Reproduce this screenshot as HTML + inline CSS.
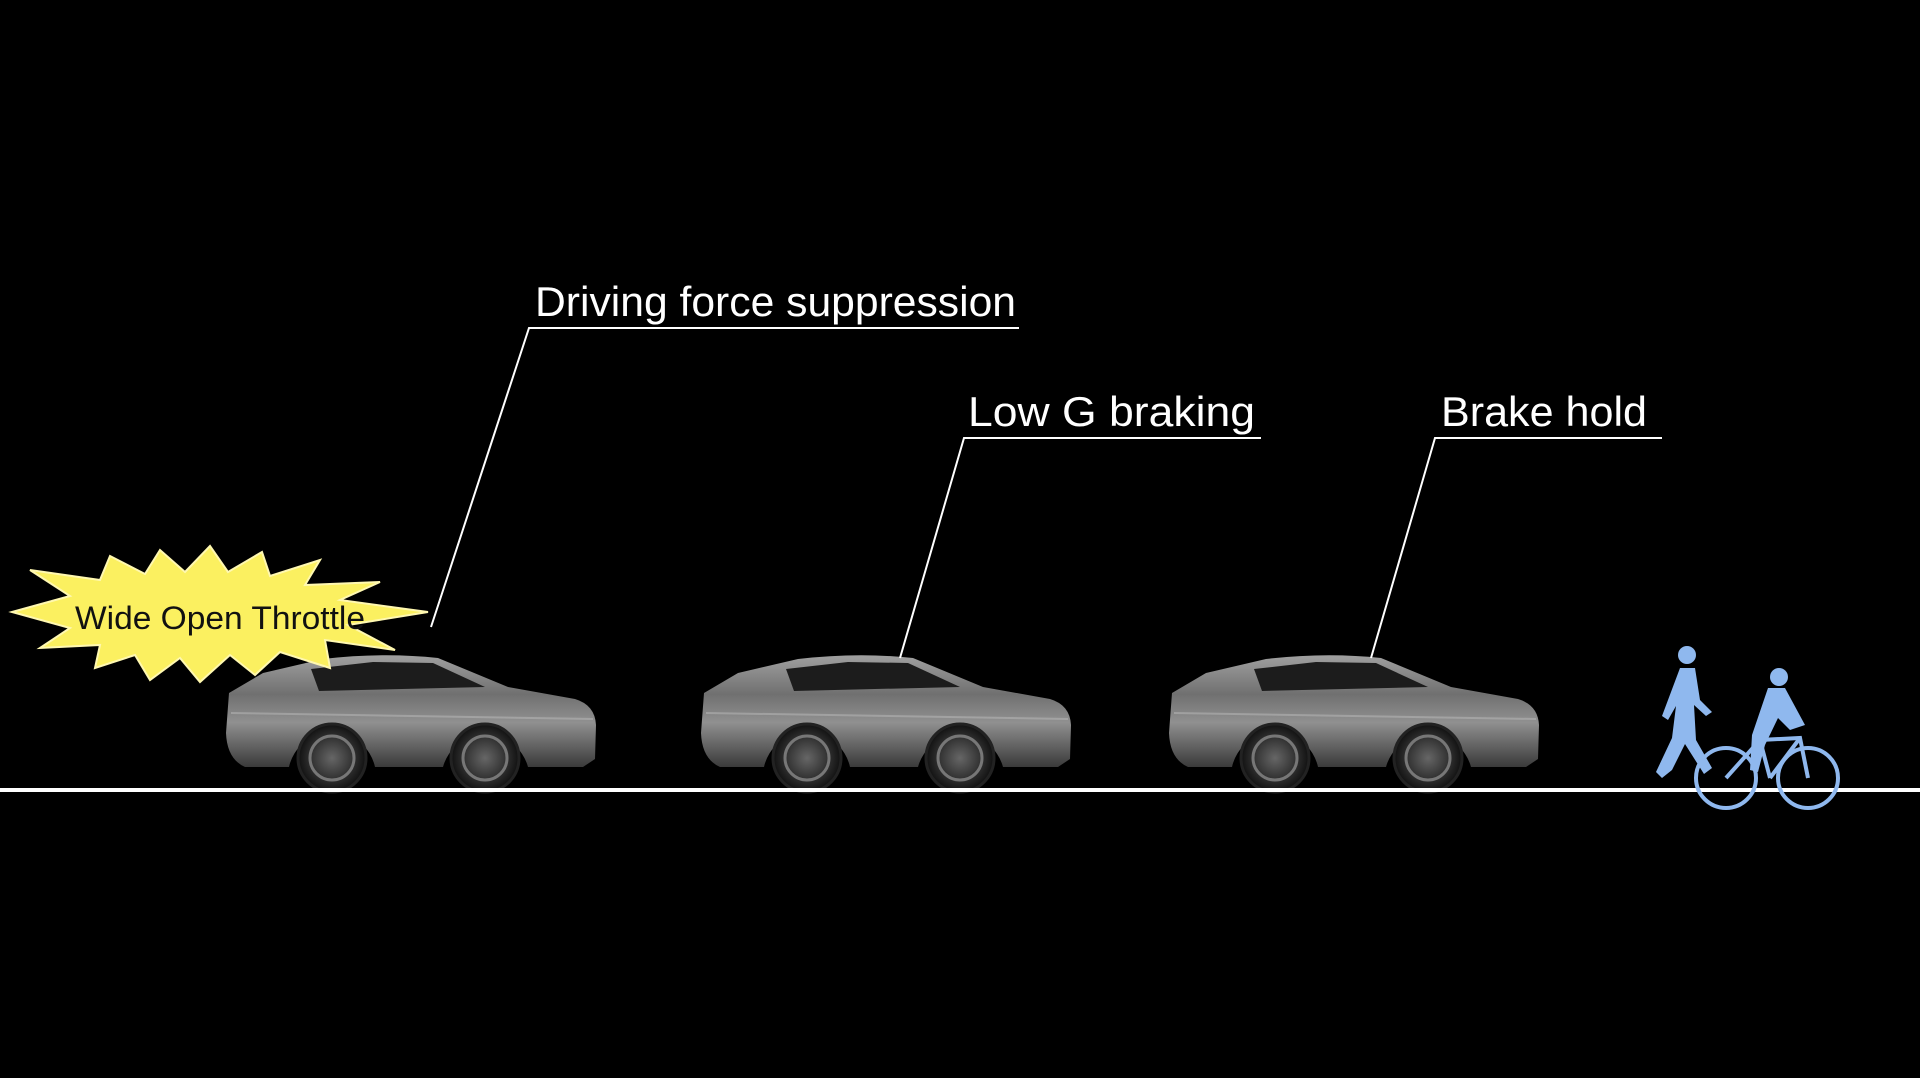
<!DOCTYPE html>
<html><head><meta charset="utf-8"><style>
html,body{margin:0;padding:0;background:#000;width:1920px;height:1078px;overflow:hidden}
svg{display:block}
</style></head><body>
<svg width="1920" height="1078" viewBox="0 0 1920 1078" xmlns="http://www.w3.org/2000/svg">
<defs>
<linearGradient id="body" x1="0" y1="0" x2="0" y2="1">
<stop offset="0" stop-color="#a0a0a0"/><stop offset="0.35" stop-color="#707070"/><stop offset="0.6" stop-color="#909090"/><stop offset="1" stop-color="#3a3a3a"/>
</linearGradient>
<radialGradient id="wheel"><stop offset="0" stop-color="#666"/><stop offset="0.6" stop-color="#333"/><stop offset="1" stop-color="#111"/></radialGradient>
<g id="car">
<path d="M6,38 L40,18 L100,4 Q160,-3 215,3 L285,32 L352,44 Q372,50 373,70 L372,104 L360,112 L305,112 A44,44 0 0 0 220,112 L152,112 A44,44 0 0 0 66,112 L22,112 Q4,104 3,78 Z" fill="url(#body)"/>
<path d="M88,14 L150,7 L210,8 L262,32 L96,36 Z" fill="#1c1c1c"/>
<path d="M8,58 L370,64" stroke="#bbb" stroke-width="2" opacity="0.5"/>
<circle cx="109" cy="103" r="34" fill="url(#wheel)" stroke="#222" stroke-width="3"/>
<circle cx="262" cy="103" r="34" fill="url(#wheel)" stroke="#222" stroke-width="3"/>
<circle cx="109" cy="103" r="22" fill="none" stroke="#777" stroke-width="3"/><circle cx="262" cy="103" r="22" fill="none" stroke="#777" stroke-width="3"/>
</g>
</defs>
<use href="#car" x="223" y="655"/>
<use href="#car" x="698" y="655"/>
<use href="#car" x="1166" y="655"/>
<rect x="0" y="788" width="1920" height="4" fill="#fff"/>
<polygon fill="#fbf060" stroke="#fff8b0" stroke-width="2" points="12,612 70,596 30,570 100,580 110,556 145,574 160,550 185,572 210,546 228,572 262,552 270,576 320,560 305,585 380,582 340,600 428,612 348,625 395,650 325,640 330,668 280,652 255,675 230,655 200,682 180,658 150,680 135,655 95,668 100,645 40,648 70,628"/>
<text x="75" y="629" font-family="Liberation Sans, sans-serif" font-size="32" fill="#111" textLength="290" lengthAdjust="spacingAndGlyphs">Wide Open Throttle</text>
<g fill="#fff" font-family="Liberation Sans, sans-serif" font-size="42">
<text x="535" y="316" textLength="481" lengthAdjust="spacingAndGlyphs">Driving force suppression</text>
<text x="968" y="426" textLength="287" lengthAdjust="spacingAndGlyphs">Low G braking</text>
<text x="1441" y="426" textLength="206" lengthAdjust="spacingAndGlyphs">Brake hold</text>
</g>
<g stroke="#fff" stroke-width="2" fill="none">
<polyline points="1019,328 529,328 431,627"/>
<polyline points="1261,438 964,438 900,658"/>
<polyline points="1662,438 1435,438 1371,658"/>
</g>
<g fill="#8fb8ee" stroke="#8fb8ee">
<circle cx="1687" cy="655" r="9" stroke="none"/>
<path d="M1680,668 L1695,668 L1700,700 L1712,712 L1706,716 L1694,705 L1696,740 L1712,768 L1704,774 L1685,744 L1672,770 L1662,778 L1656,772 L1672,738 L1676,706 L1668,720 L1662,716 Z" stroke="none"/>
<circle cx="1779" cy="677" r="9" stroke="none"/>
<path d="M1768,688 L1785,688 L1805,725 L1790,730 L1778,718 L1765,745 L1758,772 L1750,770 L1752,735 Z" stroke="none"/>
<g fill="none" stroke-width="4">
<circle cx="1726" cy="778" r="30"/><circle cx="1808" cy="778" r="30"/>
<polyline points="1726,778 1760,740 1800,738 1808,778"/>
<line x1="1760" y1="740" x2="1770" y2="778"/>
<line x1="1770" y1="778" x2="1800" y2="738"/>
</g>
</g>
</svg>
</body></html>
